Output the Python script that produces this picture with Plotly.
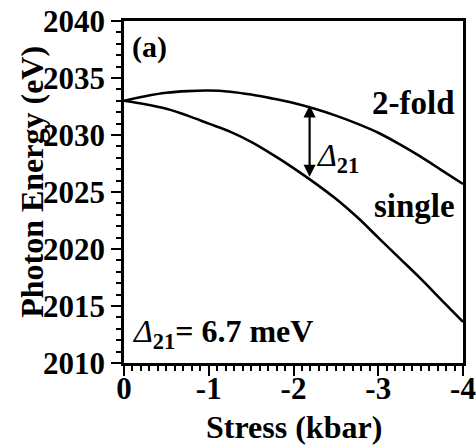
import plotly.graph_objects as go

# Uniaxial stress (kbar) and photon energies of the two branches
stress = [0, -0.25, -0.5, -0.75, -1.0, -1.25, -1.5, -1.75, -2.0,
          -2.25, -2.5, -2.75, -3.0, -3.25, -3.5, -3.75, -4.0]
energy_2fold = [2033.0, 2033.4, 2033.7, 2033.85, 2033.9, 2033.8, 2033.55, 2033.2, 2032.8,
                2032.3, 2031.7, 2031.0, 2030.2, 2029.2, 2028.1, 2026.9, 2025.7]
energy_single = [2033.0, 2032.7, 2032.3, 2031.7, 2031.0, 2030.3, 2029.4, 2028.3, 2027.1,
                 2025.8, 2024.4, 2022.8, 2021.0, 2019.2, 2017.4, 2015.5, 2013.6]

# Splitting marker position and the two energies it spans
delta_stress = -2.19
delta_top = 2032.6
delta_bottom = 2026.2

# x tick labels use a plain hyphen for the minus sign
x_ticktext = ["0", "-1", "-2", "-3", "-4"]
x_alias = {t.replace("-", "\u2212"): t for t in x_ticktext}

FONT = "Liberation Serif"

fig = go.Figure()
for ys in (energy_2fold, energy_single):
    fig.add_trace(go.Scatter(x=stress, y=ys, mode="lines",
                             line=dict(color="black", width=2.6, shape="spline"),
                             showlegend=False, hoverinfo="skip"))

# double-headed arrow for the splitting
fig.add_annotation(x=delta_stress, y=delta_top, ax=delta_stress, ay=delta_bottom,
                   xref="x", yref="y", axref="x", ayref="y", text="",
                   showarrow=True, arrowhead=2, arrowsize=1.1, arrowwidth=2.2,
                   arrowside="end+start", arrowcolor="black", standoff=0, startstandoff=0)

def label(x, y, text, size, xanchor="left", xref="x", yref="y", angle=0):
    fig.add_annotation(x=x, y=y, xref=xref, yref=yref, text=text, showarrow=False,
                       xanchor=xanchor, yanchor="middle", textangle=angle,
                       font=dict(family=FONT, size=size, color="black"))

label(-0.07, 2037.7, "<b>(a)</b>", 30)
label(-3.93, 2032.8, "<b>2-fold</b>", 33, xanchor="right")
label(-3.93, 2023.8, "<b>single</b>", 33, xanchor="right")
label(-2.24, 2028.0, "<i>Δ</i><sub><b>21</b></sub>", 32)
label(-0.07, 2012.6, "<i>Δ</i><sub><b>21</b></sub><b>= 6.7 meV</b>", 32)

# axis titles
label(0.5, -0.187, "<b>Stress (kbar)</b>", 32, xanchor="center", xref="paper", yref="paper")
label(-0.271, 0.53, "<b>Photon Energy (eV)</b>", 32, xanchor="center",
      xref="paper", yref="paper", angle=-90)

tickfont = dict(family=FONT, size=31, color="black", weight="bold")

fig.update_xaxes(range=[0, -4], tickmode="linear", tick0=0, dtick=1, labelalias=x_alias,
                 showline=True, linecolor="black", linewidth=2.6, mirror=True,
                 ticks="outside", ticklen=10, tickwidth=2.4, tickcolor="black",
                 showgrid=False, zeroline=False, tickfont=tickfont, automargin=False,
                 ticklabelstandoff=-14,
                 minor=dict(tick0=0, dtick=0.1, ticks="outside", ticklen=5, tickwidth=2,
                            tickcolor="black", showgrid=False))
fig.update_yaxes(range=[2010, 2040], tickmode="linear", tick0=2010, dtick=5,
                 showline=True, linecolor="black", linewidth=2.6, mirror=True,
                 ticks="outside", ticklen=10, tickwidth=2.4, tickcolor="black",
                 showgrid=False, zeroline=False, tickfont=tickfont, automargin=False,
                 minor=dict(tick0=2010, dtick=1, ticks="outside", ticklen=5, tickwidth=2,
                            tickcolor="black", showgrid=False))

fig.update_layout(width=476, height=446, margin=dict(l=124, r=13, t=21, b=83),
                  paper_bgcolor="white", plot_bgcolor="white")

fig.write_html("out.html")
